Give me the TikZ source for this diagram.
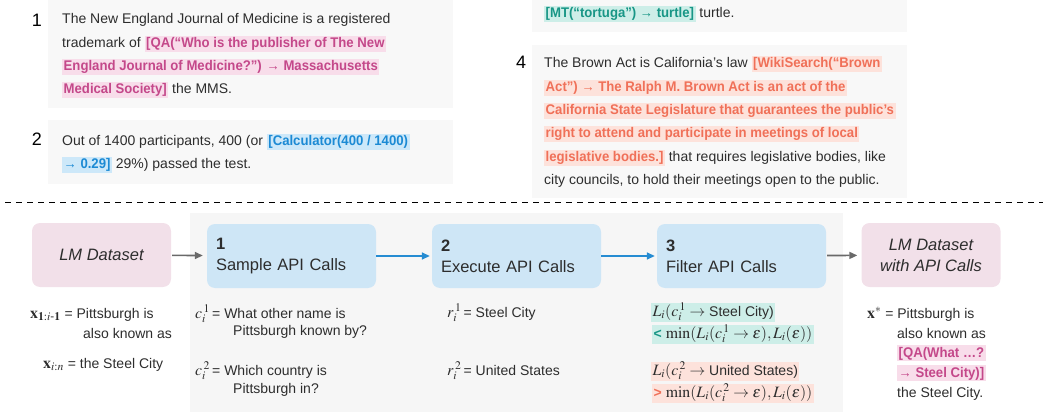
\documentclass[tikz,border=0pt]{standalone}
\usepackage{amsmath}
\usepackage{mathptmx}
\usepackage[no-math]{fontspec}
\setmainfont{Liberation Sans}
\usepackage{tikz}
\usetikzlibrary{arrows.meta}
\usepackage{xcolor}
\definecolor{txt}{RGB}{45,45,45}
\definecolor{card}{RGB}{248,248,248}
\definecolor{panel}{RGB}{246,246,246}
\definecolor{lmfill}{RGB}{242,224,233}
\definecolor{stepfill}{RGB}{206,230,246}
\definecolor{arrgray}{RGB}{105,105,105}
\definecolor{arrblue}{RGB}{38,140,210}
\definecolor{pinkfg}{RGB}{196,72,138}
\definecolor{pinkbg}{RGB}{248,221,234}
\definecolor{bluefg}{RGB}{28,138,212}
\definecolor{bluebg}{RGB}{205,232,249}
\definecolor{tealfg}{RGB}{24,150,134}
\definecolor{tealbg}{RGB}{205,238,232}
\definecolor{salmonfg}{RGB}{240,112,88}
\definecolor{salmonbg}{RGB}{253,226,219}
\newcommand{\hlt}[2]{{\setlength{\fboxsep}{1.5pt}\colorbox{#1bg}{\textcolor{#1fg}{\bfseries\addfontfeatures{FakeStretch=0.94}\vphantom{Ag}#2}}}}
\newcommand{\mth}[1]{{\fontsize{15.8}{17}\selectfont$#1$}}
\tikzstyle{para}=[anchor=base west,inner sep=0pt,text=txt,font=\fontsize{14}{17}\selectfont]
\tikzstyle{num}=[anchor=base,inner sep=0pt,text=black,font=\fontsize{18}{20}\selectfont]
\tikzstyle{capline}=[anchor=base west,inner sep=0pt,text=txt,font=\fontsize{14}{17}\selectfont]
\tikzstyle{lossrow}=[anchor=base west,inner xsep=1.5pt,inner ysep=1.5pt,text height=11.5pt,text depth=4.5pt,text=txt,font=\fontsize{14}{17}\selectfont]
\tikzstyle{databox}=[fill=lmfill,rounded corners=8pt,minimum width=139pt,minimum height=64pt,align=center,text=txt,font=\fontsize{16.5}{21}\selectfont\itshape]
\tikzstyle{stepbox}=[fill=stepfill,rounded corners=8pt,minimum width=169pt,minimum height=64pt,inner xsep=9pt,text width=151pt,align=left,text=txt,font=\fontsize{16.5}{21}\selectfont]
\tikzstyle{grayarrow}=[draw=arrgray,line width=1.6pt,-{Triangle[length=8pt,width=7pt]},shorten >=4pt,shorten <=1pt]
\tikzstyle{bluearrow}=[draw=arrblue,line width=1.6pt,-{Triangle[length=8pt,width=7pt]},shorten >=2pt]
\begin{document}
\begin{tikzpicture}[x=1pt,y=-1pt]
\useasboundingbox (0,0) rectangle (1063,417);
% examples
\fill[card] (48,-5) rectangle (453,108);
\fill[card] (48,120) rectangle (453,184);
\fill[card] (532,-5) rectangle (907,32);
\fill[card] (532,45) rectangle (907,198);
\node[num] (n1) at (37,27) {1};
\node[num] (n2) at (37,146) {2};
\node[num] (n4) at (521,69) {4};
\node[para] (q1a) at (62,24) {The New England Journal of Medicine is a registered};
\node[para] (q1b) at (62,47.3) {trademark of \hlt{pink}{[QA(“Who is the publisher of The New}};
\node[para] (q1c) at (62,70.7) {\hlt{pink}{England Journal of Medicine?”) → Massachusetts}};
\node[para] (q1d) at (62,94) {\hlt{pink}{Medical Society]} the MMS.};
\node[para] (q2a) at (62,145.7) {Out of 1400 participants, 400 (or \hlt{blue}{[Calculator(400 / 1400)}};
\node[para] (q2b) at (62,168.3) {\hlt{blue}{→ 0.29]} 29\%) passed the test.};
\node[para] (q3a) at (544,18) {\hlt{teal}{[MT(“tortuga”) → turtle]} turtle.};
\node[para] (q4a) at (544,68) {The Brown Act is California’s law \hlt{salmon}{[WikiSearch(“Brown}};
\node[para] (q4b) at (544,91.3) {\hlt{salmon}{Act”) → The Ralph M. Brown Act is an act of the}};
\node[para] (q4c) at (544,114.7) {\hlt{salmon}{California State Legislature that guarantees the public's}};
\node[para] (q4d) at (544,138) {\hlt{salmon}{right to attend and participate in meetings of local}};
\node[para] (q4e) at (544,161.3) {\hlt{salmon}{legislative bodies.]} that requires legislative bodies, like};
\node[para] (q4f) at (544,185) {city councils, to hold their meetings open to the public.};
% separator
\coordinate (sepL) at (5,202.5);
\coordinate (sepR) at (1043,202.5);
\draw[line width=1.3pt,dash pattern=on 6pt off 5pt] (sepL) -- (sepR);
% pipeline
\fill[panel] (190,213) rectangle (843,412);
\node[databox] (lmdata) at (101.5,255) {LM Dataset};
\node[stepbox] (sample) at (291.5,256) {\textbf{1}\\Sample API Calls};
\node[stepbox] (execute) at (516.5,256) {\textbf{2}\\Execute API Calls};
\node[stepbox] (filter) at (741.5,256) {\textbf{3}\\Filter API Calls};
\node[databox] (lmapi) at (931,255) {LM Dataset\\with API Calls};
\draw[grayarrow] (lmdata) -- (sample);
\draw[bluearrow] (sample) -- (execute);
\draw[bluearrow] (execute) -- (filter);
\draw[grayarrow] (filter) -- (lmapi);
% inputs
\node[capline] (xa) at (30,318) {\mth{\mathbf{x}_{\mathbf{1}:i\text{-}\mathbf{1}}} = Pittsburgh is};
\node[capline] (xb) at (83,338) {also known as};
\node[capline] (xc) at (43,368) {\mth{\mathbf{x}_{i:n}} = the Steel City};
\node[capline] (c1a) at (195,318) {\mth{c_i^{\,1}}\,= What other name is};
\node[capline] (c1b) at (233,335) {Pittsburgh known by?};
\node[capline] (c2a) at (195,375) {\mth{c_i^{\,2}}\,= Which country is};
\node[capline] (c2b) at (233,393) {Pittsburgh in?};
\node[capline] (r1) at (447,317) {\mth{r_i^{\,1}}\,= Steel City};
\node[capline] (r2) at (447,375) {\mth{r_i^{\,2}}\,= United States};
\node[lossrow,fill=tealbg] (f1a) at (651,316) {\mth{L_i(c_i^{\,1}\rightarrow} Steel City)};
\node[lossrow,fill=tealbg] (f1b) at (652,338) {\textcolor{tealfg}{\bfseries<} \mth{\min(L_i(c_i^{\,1}\rightarrow\epsilon), L_i(\epsilon))}};
\node[lossrow,fill=salmonbg] (f2a) at (651,375) {\mth{L_i(c_i^{\,2}\rightarrow} United States)};
\node[lossrow,fill=salmonbg] (f2b) at (652,397) {\textcolor{salmonfg}{\bfseries>} \mth{\min(L_i(c_i^{\,2}\rightarrow\epsilon), L_i(\epsilon))}};
\node[capline] (xs) at (867,318) {\mth{\mathbf{x}^{*}} = Pittsburgh is};
\node[capline] (xsb) at (897,338) {also known as};
\node[capline] (xsc) at (897,357) {\hlt{pink}{[QA(What …?}};
\node[capline] (xsd) at (897,377) {\hlt{pink}{→ Steel City)]}};
\node[capline] (xse) at (897,397) {the Steel City.};
\end{tikzpicture}
\end{document}
